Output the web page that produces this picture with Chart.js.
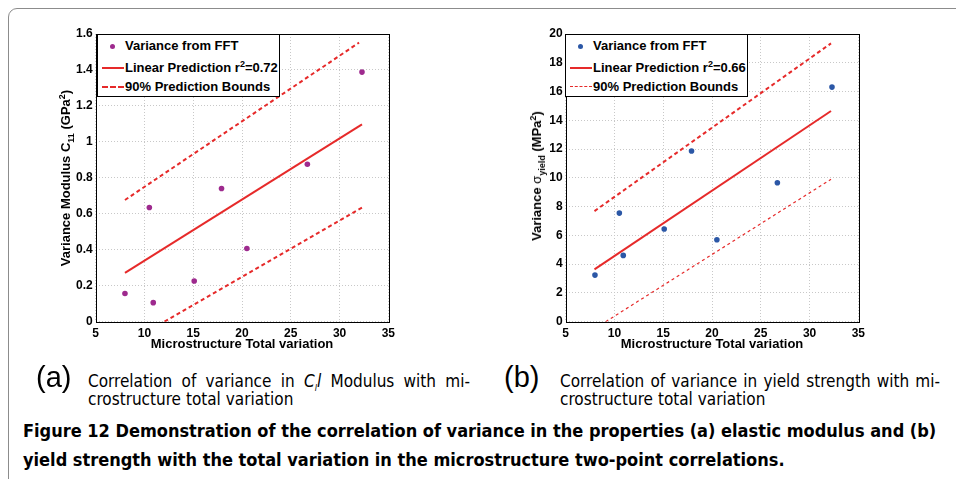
<!DOCTYPE html>
<html>
<head>
<meta charset="utf-8">
<script src="https://cdn.jsdelivr.net/npm/chart.js@4.4.0/dist/chart.umd.min.js"></script>
<style>
  body { margin: 0; width: 956px; height: 479px; background: #fff; position: relative; overflow: hidden;
         font-family: "Liberation Sans", Arial, sans-serif; }
  .frame { position: absolute; left: 8px; top: 8px; width: 1000px; height: 600px;
           border: 1.5px solid #8c8c8c; border-top-left-radius: 9px; }
  .plot { position: absolute; top: 20px; width: 360px; height: 335px; }
  .ytitle { position: absolute; font-weight: bold; font-size: 13px; white-space: nowrap; line-height: 14px;
            transform: translate(-50%, -50%) rotate(-90deg); }
  .ytitle sub, .ytitle sup, .legend sup, .subtext sub { font-size: 9px; line-height: 0; }
  .legend { position: absolute; top: 34px; width: 181px; height: 61px; border: 1px solid #000; background: #fff;
            font-weight: bold; font-size: 13px; }
  .legend .row { position: absolute; left: 0; height: 20px; line-height: 20px; white-space: nowrap; }
  .legend .row span.t { position: absolute; left: 27px; }
  .mk { position: absolute; }
  .sub { position: absolute; font-size: 29px; line-height: 30px; }
  .subtext { position: absolute; font-size: 17px; line-height: 18px; white-space: nowrap;
             font-family: "DejaVu Sans Condensed", "Liberation Sans", sans-serif; }
  .subtext.just { white-space: normal; text-align: justify; text-align-last: justify; }
  .caption { position: absolute; left: 23px; top: 416px; font-weight: bold; font-size: 18px; line-height: 29px;
             font-family: "Liberation Sans Narrow", "DejaVu Sans Condensed", sans-serif; }
</style>
</head>
<body>
<div class="frame"></div>

<canvas id="modulusChart" class="plot" style="left:40px" width="360" height="335"></canvas>
<canvas id="yieldChart" class="plot" style="left:510px" width="360" height="335"></canvas>

<div class="ytitle" style="left:66px;top:178px">Variance Modulus C<sub>11</sub> (GPa<sup>2</sup>)</div>
<div class="ytitle" style="left:537px;top:176px">Variance <span style="font-weight:normal">&sigma;</span><sub>yield</sub> (MPa<sup>2</sup>)</div>

<div class="legend" style="left:97px">
  <div class="row" style="top:1px;width:100%"><span class="mk" style="left:12px;top:8px;width:5px;height:5px;border-radius:50%;background:#9e2a8e"></span><span class="t">Variance from FFT</span></div>
  <div class="row" style="top:23px;width:100%"><span class="mk" style="left:4px;top:9px;width:22px;border-top:2px solid #e62a2a"></span><span class="t">Linear Prediction r<sup>2</sup>=0.72</span></div>
  <div class="row" style="top:42px;width:100%"><span class="mk" style="left:4px;top:9px;width:22px;border-top:2px dashed #e62a2a"></span><span class="t">90% Prediction Bounds</span></div>
</div>
<div class="legend" style="left:565px">
  <div class="row" style="top:1px;width:100%"><span class="mk" style="left:12px;top:8px;width:5px;height:5px;border-radius:50%;background:#2b57a6"></span><span class="t">Variance from FFT</span></div>
  <div class="row" style="top:23px;width:100%"><span class="mk" style="left:4px;top:9px;width:22px;border-top:2px solid #e62a2a"></span><span class="t">Linear Prediction r<sup>2</sup>=0.66</span></div>
  <div class="row" style="top:42px;width:100%"><span class="mk" style="left:4px;top:9px;width:22px;border-top:1px dashed #e62a2a"></span><span class="t">90% Prediction Bounds</span></div>
</div>

<div class="sub" style="left:36px;top:362px">(a)</div>
<div class="subtext just" style="left:88px;top:372px;width:382px">Correlation of variance in <i>C<sub>l</sub>l</i> Modulus with mi-</div>
<div class="subtext" style="left:88px;top:390px">crostructure total variation</div>
<div class="sub" style="left:504px;top:362px">(b)</div>
<div class="subtext just" style="left:560px;top:372px;width:380px">Correlation of variance in yield strength with mi-</div>
<div class="subtext" style="left:560px;top:390px">crostructure total variation</div>

<div class="caption">Figure 12 Demonstration of the correlation of variance in the properties (a) elastic modulus and (b)<br>yield strength with the total variation in the microstructure two-point correlations.</div>

<script>
// values
const totalVariation = [8.0, 10.5, 10.9, 15.1, 17.9, 20.5, 26.7, 32.3];
const modulusVariance = [0.157, 0.635, 0.106, 0.226, 0.741, 0.407, 0.876, 1.388];
const yieldVariance = [3.24, 7.55, 4.61, 6.44, 11.87, 5.70, 9.66, 16.31];

// fitted line and 90% bounds (end points)
const modulusFitX = [8.0, 32.3];
const modulusFitY = [0.272, 1.097];
const modulusUpperX = [8.0, 32.0];
const modulusUpperY = [0.677, 1.552];
const modulusLowerX = [12.05, 32.3];
const modulusLowerY = [0.0, 0.634];

const yieldFitX = [7.95, 32.2];
const yieldFitY = [3.64, 14.65];
const yieldUpperX = [7.95, 32.2];
const yieldUpperY = [7.69, 19.35];
const yieldLowerX = [9.1, 32.2];
const yieldLowerY = [0.0, 9.9];

const xTicks = [5, 10, 15, 20, 25, 30, 35];
const modulusTicks = [0, 0.2, 0.4, 0.6, 0.8, 1, 1.2, 1.4, 1.6];
const yieldTicks = [0, 2, 4, 6, 8, 10, 12, 14, 16, 18, 20];

const RED = "#e62a2a";

function pts(xs, ys) {
  return xs.map((x, i) => ({ x: x, y: ys[i] }));
}

const boxPlugin = {
  id: "box",
  afterDraw(chart) {
    const a = chart.chartArea;
    const ctx = chart.ctx;
    ctx.save();
    ctx.strokeStyle = "#000";
    ctx.lineWidth = 1;
    ctx.strokeRect(Math.round(a.left) + 0.5, Math.round(a.top) + 0.5,
      Math.round(a.right - a.left), Math.round(a.bottom - a.top));
    ctx.restore();
  },
};

function makeChart(id, cfg) {
  const ctx = document.getElementById(id).getContext("2d");
  return new Chart(ctx, {
    type: "scatter",
    data: {
      datasets: [
        {
          label: "Variance from FFT",
          data: pts(totalVariation, cfg.values),
          backgroundColor: cfg.dotColor,
          borderColor: cfg.dotColor,
          pointRadius: 2.8,
          pointBorderWidth: 0,
        },
        {
          label: cfg.fitLabel,
          type: "line",
          data: pts(cfg.fitX, cfg.fitY),
          borderColor: RED,
          borderWidth: 2,
          pointRadius: 0,
        },
        {
          label: "90% Prediction Bounds",
          type: "line",
          data: pts(cfg.upX, cfg.upY),
          borderColor: RED,
          borderWidth: 2,
          borderDash: [4, 3],
          pointRadius: 0,
        },
        {
          label: "90% Prediction Bounds",
          type: "line",
          data: pts(cfg.loX, cfg.loY),
          borderColor: RED,
          borderWidth: cfg.lowWidth,
          borderDash: cfg.lowDash,
          pointRadius: 0,
        },
      ],
    },
    options: {
      responsive: false,
      animation: false,
      layout: { padding: { left: 0, top: 14, right: 9, bottom: 0 } },
      plugins: { legend: { display: false }, tooltip: { enabled: false } },
      scales: {
        x: {
          type: "linear",
          min: 5,
          max: 35,
          afterBuildTicks: (s) => { s.ticks = xTicks.map((v) => ({ value: v })); },
          afterFit: (s) => { s.height = 33.3; },
          ticks: {
            padding: 5,
            color: "#000",
            font: { family: "Liberation Sans", size: 12, weight: "bold" },
            callback: (v) => String(v),
          },
          grid: { color: "#c8c8c8", drawTicks: false },
          border: { display: false, dash: [1, 2] },
          title: {
            display: true,
            text: "Microstructure Total variation",
            color: "#000",
            padding: { top: 0, bottom: 3 },
            font: { family: "Liberation Sans", size: 13, weight: "bold" },
          },
        },
        y: {
          type: "linear",
          min: 0,
          max: cfg.yMax,
          afterBuildTicks: (s) => { s.ticks = cfg.yTicks.map((v) => ({ value: v })); },
          afterFit: (s) => { s.width = 55.7; },
          ticks: {
            padding: 3,
            color: "#000",
            font: { family: "Liberation Sans", size: 12, weight: "bold" },
            callback: (v) => String(v),
          },
          grid: { color: "#c8c8c8", drawTicks: false },
          border: { display: false, dash: [1, 2] },
        },
      },
    },
    plugins: [boxPlugin],
  });
}

makeChart("modulusChart", {
  values: modulusVariance,
  dotColor: "#9e2a8e",
  fitLabel: "Linear Prediction r²=0.72",
  fitX: modulusFitX, fitY: modulusFitY,
  upX: modulusUpperX, upY: modulusUpperY,
  loX: modulusLowerX, loY: modulusLowerY,
  lowWidth: 2, lowDash: [4, 3],
  yMax: 1.6, yTicks: modulusTicks,
});

makeChart("yieldChart", {
  values: yieldVariance,
  dotColor: "#2b57a6",
  fitLabel: "Linear Prediction r²=0.66",
  fitX: yieldFitX, fitY: yieldFitY,
  upX: yieldUpperX, upY: yieldUpperY,
  loX: yieldLowerX, loY: yieldLowerY,
  lowWidth: 1.2, lowDash: [3, 3],
  yMax: 20, yTicks: yieldTicks,
});
</script>
</body>
</html>
